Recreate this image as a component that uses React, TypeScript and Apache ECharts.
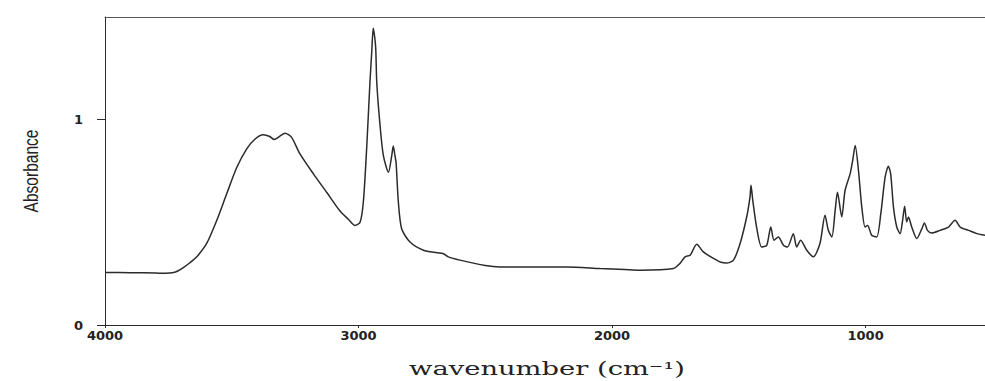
import React, { useEffect, useRef } from "react";
import * as echarts from "echarts";

// IR spectrum: wavenumber (cm^-1) against absorbance
const wavenumbers = [
  4000, 3900, 3800, 3760, 3735, 3715, 3691, 3665, 3638, 3599, 3559, 3520, 3480, 3441, 3408, 3376, 3350, 3333,
  3310, 3290, 3264, 3231, 3178, 3125, 3073, 3040, 3014, 2994, 2981, 2968, 2955, 2948, 2942, 2936,
  2932, 2928, 2915, 2902, 2882, 2869, 2863, 2857, 2852, 2843, 2830, 2797, 2744, 2690, 2667, 2646,
  2600, 2500, 2442, 2312, 2179, 2047, 1950, 1889, 1758, 1732, 1712, 1692, 1666, 1640, 1600, 1574,
  1548, 1521, 1495, 1469, 1456, 1452, 1445, 1430, 1410, 1390, 1374, 1361, 1344, 1324, 1308, 1285,
  1272, 1256, 1232, 1206, 1180, 1160, 1147, 1133, 1120, 1111, 1094, 1081, 1061, 1051, 1041, 1028,
  1015, 1002, 992, 976, 956, 940, 923, 910, 901, 890, 877, 864, 854, 846, 838, 831,
  818, 798, 778, 768, 756, 739, 706, 673, 647, 627, 594, 561, 529,
];

const absorbance = [
  0.256, 0.255, 0.253, 0.252, 0.254, 0.262, 0.28, 0.303, 0.332, 0.397, 0.51, 0.639, 0.768, 0.858, 0.906, 0.927, 0.918, 0.903,
  0.92, 0.934, 0.914, 0.833, 0.736, 0.645, 0.555, 0.515, 0.485, 0.5, 0.599, 0.858, 1.181, 1.327, 1.445, 1.4,
  1.343, 1.18, 0.97, 0.825, 0.744, 0.825, 0.872, 0.83, 0.793, 0.6, 0.469, 0.404, 0.364, 0.352, 0.348, 0.332,
  0.316, 0.29, 0.283, 0.283, 0.283, 0.275, 0.27, 0.267, 0.275, 0.3, 0.332, 0.34, 0.393, 0.356, 0.324, 0.307,
  0.302, 0.316, 0.397, 0.526, 0.623, 0.68, 0.607, 0.477, 0.38, 0.388, 0.477, 0.413, 0.429, 0.388, 0.38, 0.445,
  0.38, 0.413, 0.364, 0.332, 0.397, 0.534, 0.461, 0.429, 0.558, 0.647, 0.526, 0.655, 0.736, 0.8, 0.874, 0.752,
  0.574, 0.477, 0.485, 0.437, 0.429, 0.542, 0.72, 0.773, 0.736, 0.574, 0.477, 0.445, 0.51, 0.578, 0.502, 0.526,
  0.477, 0.421, 0.469, 0.497, 0.461, 0.448, 0.461, 0.477, 0.51, 0.477, 0.461, 0.445, 0.437,
];

const xTicks = [1000, 2000, 3000, 4000];
const yTicks = [0, 1];

const X_MIN = 529;
const X_MAX = 4000;
const Y_MAX = 1.5;

const INK = "#2b2b2b";

const plain = (v: number) => String(v);

export default function App() {
  const ref = useRef<HTMLDivElement>(null);

  useEffect(() => {
    if (!ref.current) return;
    const chart = echarts.init(ref.current, undefined, { renderer: "svg" });

    const points = wavenumbers.map((w, i) => [w, absorbance[i]]);

    chart.setOption({
      animation: false,
      backgroundColor: "#ffffff",
      grid: {
        left: 105,
        right: 0,
        top: 17,
        bottom: 56,
        containLabel: false,
        outerBoundsMode: "none",
      },
      xAxis: [
        {
          type: "value",
          inverse: true,
          min: X_MIN,
          max: X_MAX,
          axisLine: { show: true, lineStyle: { color: INK, width: 1 } },
          axisTick: {
            show: true,
            customValues: xTicks,
            length: 3,
            lineStyle: { color: INK },
          },
          axisLabel: {
            customValues: xTicks,
            formatter: plain,
            margin: 4,
            color: "#222",
            fontFamily: "DejaVu Sans",
            fontWeight: "bold",
            fontSize: 13,
          },
          splitLine: { show: false },
        },
        {
          type: "value",
          position: "top",
          inverse: true,
          min: X_MIN,
          max: X_MAX,
          axisLine: { show: true, lineStyle: { color: "#555", width: 1 } },
          axisTick: { show: false },
          axisLabel: { show: false },
          splitLine: { show: false },
        },
      ],
      yAxis: {
        type: "value",
        min: 0,
        max: Y_MAX,
        axisLine: { show: true, lineStyle: { color: INK, width: 1 } },
        axisTick: {
          show: true,
          customValues: yTicks,
          length: 8,
          lineStyle: { color: INK },
        },
        axisLabel: {
          customValues: yTicks,
          formatter: plain,
          margin: 22,
          color: "#222",
          fontFamily: "DejaVu Sans",
          fontWeight: "bold",
          fontSize: 13,
        },
        splitLine: { show: false },
      },
      series: [
        {
          type: "line",
          data: points,
          xAxisIndex: 0,
          showSymbol: false,
          smooth: 0.25,
          lineStyle: { color: INK, width: 1.5 },
        },
      ],
      graphic: [
        {
          type: "text",
          x: 31,
          y: 171,
          rotation: Math.PI / 2,
          scaleX: 0.74,
          style: {
            text: "Absorbance",
            fontFamily: "Liberation Sans",
            fontSize: 21,
            fill: "#222",
            align: "center",
            verticalAlign: "middle",
          },
        },
        {
          type: "text",
          x: 547,
          y: 369,
          scaleX: 1.52,
          style: {
            text: "wavenumber (cm⁻¹)",
            fontFamily: "DejaVu Serif",
            fontSize: 18,
            fill: "#222",
            align: "center",
            verticalAlign: "middle",
          },
        },
      ],
    });

    return () => chart.dispose();
  }, []);

  return (
    <div
      ref={ref}
      style={{ position: "fixed", left: 0, top: 0, width: 985, height: 381 }}
    />
  );
}
